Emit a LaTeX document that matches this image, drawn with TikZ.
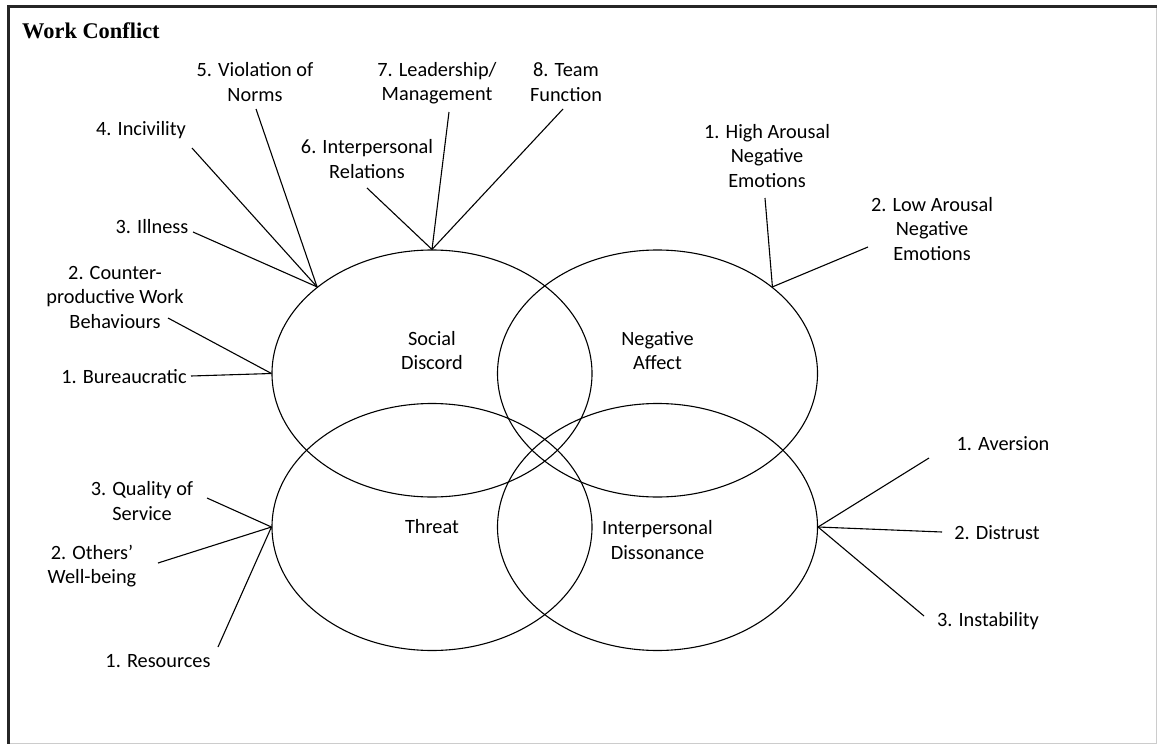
\documentclass[tikz,border=0pt]{standalone}
\usepackage{fontspec}
\setmainfont{Carlito}
\newfontfamily\titlefont{Liberation Serif}
\usetikzlibrary{shapes.geometric, calc}

\begin{document}
\begin{tikzpicture}[
    x=1pt, y=-1pt,
    every node/.style={font=\fontsize{20.3}{24.5}\selectfont},
    factor/.style={ellipse, draw, line width=1.1pt, minimum width=320pt, minimum height=247pt, inner sep=0pt},
    facet/.style={align=center, inner sep=0pt},
    spoke/.style={line width=1.1pt}
]
    \useasboundingbox (0,0) rectangle (1157,744);

    % frame
    \draw [black!20, line width=1pt] (1156,6.5) -- (1156,743) -- (8.5,743);
    \draw [black!85, line width=3.3pt] (8.5,744) -- (8.5,6.7) -- (1156.5,6.7);
    \node (title) [anchor=base west, inner sep=0pt, font=\titlefont\bfseries\fontsize{22.4}{26}\selectfont] at (22,38) {Work Conflict};

    % the four overlapping factors
    \node (social) [factor] at (432,373.5) {};
    \node (negaff) [factor] at (657.5,373.5) {};
    \node (threat) [factor] at (432,527) {};
    \node (intdis) [factor] at (657.5,527) {};

    \node (socialtxt) [facet] at (432,350.5) {Social\\Discord};
    \node (negafftxt) [facet] at (657.5,350.5) {Negative\\Affect};
    \node (threattxt) [facet] at (432,527) {Threat};
    \node (intdistxt) [facet] at (657.5,540) {Interpersonal\\Dissonance};

    % social discord facets
    \node (bur)  [facet] at (124,377) {1. Bureaucratic};
    \node (cwb)  [facet] at (115,297) {2. Counter-\\productive Work\\Behaviours};
    \node (illn) [facet] at (152,227) {3. Illness};
    \node (incv) [facet] at (141,130) {4. Incivility};
    \node (viol) [facet] at (255,82) {5. Violation of\\Norms};
    \node (ipr)  [facet] at (367,159) {6. Interpersonal\\Relations};
    \node (lead) [facet] at (437,83) {7. Leadership/\\Management};
    \node (team) [facet] at (566,82) {8. Team\\Function};

    % negative affect facets
    \node (high) [facet] at (767,156) {1. High Arousal\\Negative\\Emotions};
    \node (low)  [facet] at (932,229) {2. Low Arousal\\Negative\\Emotions};

    % threat facets
    \node (res)  [facet] at (158,661) {1. Resources};
    \node (owb)  [facet] at (92,566) {2. Others’\\Well-being};
    \node (qos)  [facet] at (142,501) {3. Quality of\\Service};

    % interpersonal dissonance facets
    \node (avr)  [facet] at (1003,444) {1. Aversion};
    \node (dis)  [facet] at (997,533) {2. Distrust};
    \node (ins)  [facet] at (988,621) {3. Instability};

    \draw [spoke] ($(bur)+(67,-1)$) -- (social.180);
    \draw [spoke] ($(cwb)+(53,21)$) -- (social.180);
    \draw [spoke] ($(illn)+(41,5)$) -- (social.143);
    \draw [spoke] ($(incv)+(51,18)$) -- (social.143);
    \draw [spoke] ($(viol)+(1,27)$) -- (social.143);
    \draw [spoke] ($(ipr)+(0,29)$) -- (social.90);
    \draw [spoke] ($(lead)+(12,29)$) -- (social.90);
    \draw [spoke] ($(team)+(-3,27)$) -- (social.90);

    \draw [spoke] ($(high)+(-2,42)$) -- (negaff.37);
    \draw [spoke] ($(low)+(-64,18)$) -- (negaff.37);

    \draw [spoke] ($(qos)+(65,-3)$) -- (threat.180);
    \draw [spoke] ($(owb)+(66,-3)$) -- (threat.180);
    \draw [spoke] ($(res)+(60,-14)$) -- (threat.180);

    \draw [spoke] ($(avr)+(-74,14)$) -- (intdis.0);
    \draw [spoke] ($(dis)+(-55,-1)$) -- (intdis.0);
    \draw [spoke] ($(ins)+(-64,-5)$) -- (intdis.0);
\end{tikzpicture}
\end{document}
